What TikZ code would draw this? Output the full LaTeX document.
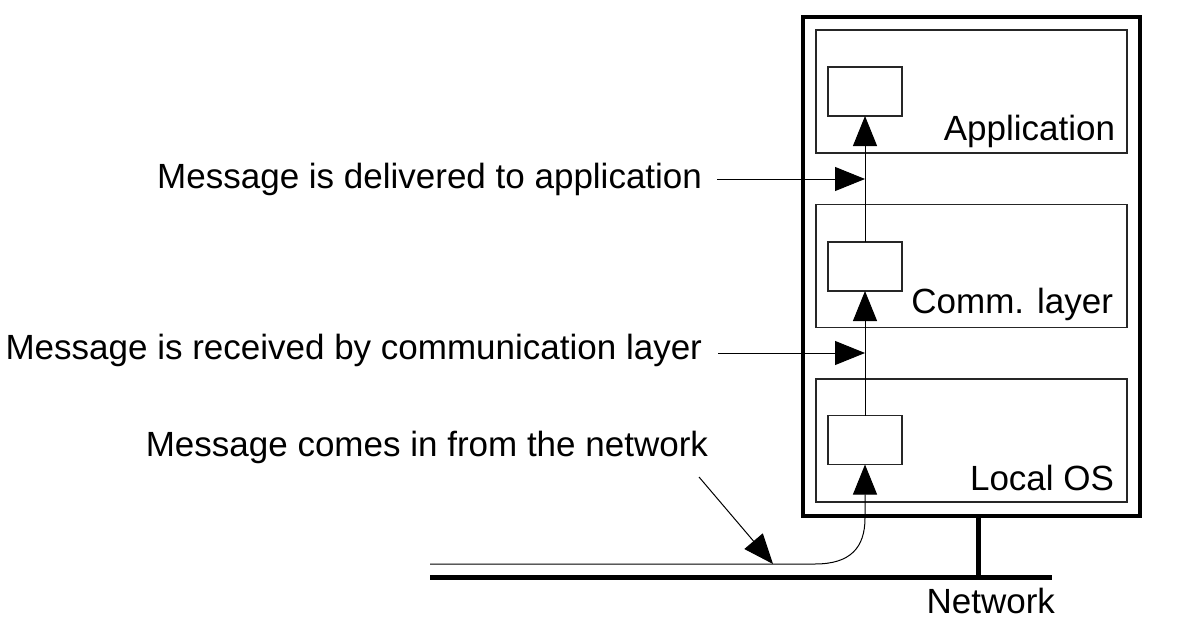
\documentclass[tikz,border=0pt]{standalone}
\usepackage{fontspec}
\setmainfont{Liberation Sans}
\usetikzlibrary{arrows.meta}
\begin{document}
\begin{tikzpicture}[x=1pt,y=-1pt,
  every node/.style={inner sep=0pt,outer sep=0pt},
  label text/.style={font=\fontsize{35}{40}\selectfont,anchor=base east},
  layerbox/.style={draw=black!85,line width=1.5pt,minimum width=311pt,minimum height=123pt},
  smallbox/.style={draw=black!85,line width=1.5pt,minimum width=74pt,minimum height=49pt},
  thin/.style={line width=1pt},
  arr/.style={thin,-{Triangle[length=30pt,width=24pt]}},
  thick bar/.style={line width=5pt}]
\useasboundingbox (0,0) rectangle (1177,623);

% host machine and its three layers
\node[draw,line width=4.5pt,minimum width=337pt,minimum height=499pt] (host) at (971.5,266.5) {};
\node[layerbox] (app)  at (971.5,91.5) {};
\node[layerbox] (comm) at (971.5,266) {};
\node[layerbox] (os)   at (971.5,440.5) {};

\node[smallbox] (sa) at (865,91.5) {};
\node[smallbox] (sc) at (865,266.5) {};
\node[smallbox] (so) at (865,440) {};

\node[label text] at (1115,140) {Application};
\node[label text] at (1113,313) {Comm. layer};
\node[label text] at (1114,490) {Local OS};
\node[label text] (net) at (1055,613) {Network};

% messages travel up through the layers
\draw[arr] (sc.north) -- (sa.south);
\draw[arr] (so.north) -- (sc.south);

% network cable and the host's connection to it
\coordinate (nl) at (430,577);
\coordinate (nr) at (1052,577);
\coordinate (stemtop) at (978,516);
\coordinate (stembot) at (978,577);
\draw[thick bar] (nl) -- (nr);
\draw[thick bar] (stemtop) -- (stembot);

% incoming message along the cable
\coordinate (m0) at (430,564);
\coordinate (m1) at (815,564);
\coordinate (m2) at (865,518);
\draw[arr] (m0) -- (m1) .. controls (850,564) and (865,548) .. (m2) -- (so.south);

% annotations
\node[label text] (t1) at (702,188) {Message is delivered to application};
\node[label text] (t2) at (702,359) {Message is received by communication layer};
\node[label text] (t3) at (708,456) {Message comes in from the network};

\coordinate (a1) at (717,179);
\coordinate (a2) at (718,353);
\coordinate (a3) at (699,477);
\coordinate (a3tip) at (773,564);
\draw[arr] (a1) -- (a1 -| sa.south);
\draw[arr] (a2) -- (a2 -| sc.south);
\draw[arr] (a3) -- (a3tip);
\end{tikzpicture}
\end{document}
